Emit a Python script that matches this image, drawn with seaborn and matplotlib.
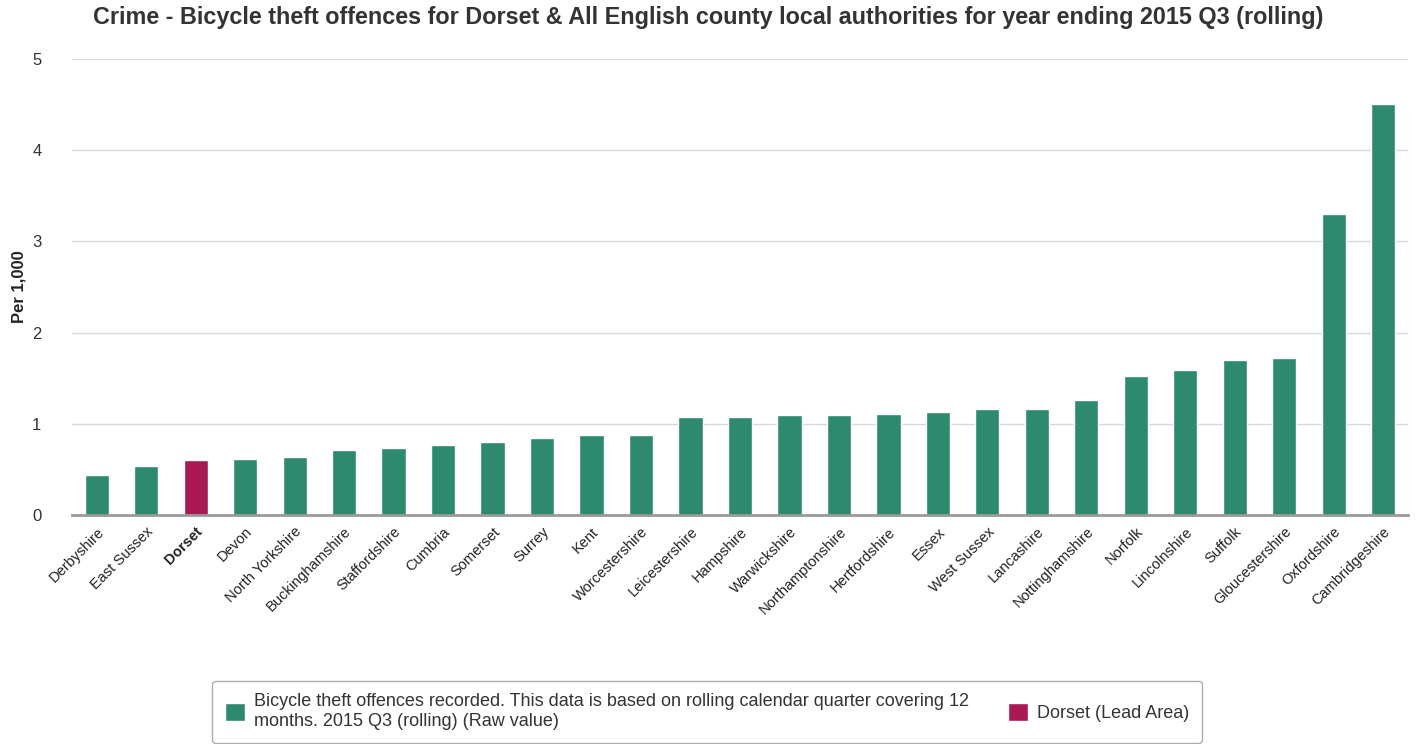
import numpy as np
import pandas as pd
import matplotlib
matplotlib.use("Agg")
import matplotlib.pyplot as plt
from matplotlib.patches import Patch
import seaborn as sns

# data
areas = ["Derbyshire", "East Sussex", "Dorset", "Devon", "North Yorkshire",
         "Buckinghamshire", "Staffordshire", "Cumbria", "Somerset", "Surrey",
         "Kent", "Worcestershire", "Leicestershire", "Hampshire", "Warwickshire",
         "Northamptonshire", "Hertfordshire", "Essex", "West Sussex", "Lancashire",
         "Nottinghamshire", "Norfolk", "Lincolnshire", "Suffolk", "Gloucestershire",
         "Oxfordshire", "Cambridgeshire"]
values = [0.44, 0.54, 0.60, 0.61, 0.64, 0.71, 0.73, 0.77, 0.80, 0.84,
          0.88, 0.88, 1.07, 1.07, 1.10, 1.10, 1.11, 1.13, 1.16, 1.16,
          1.26, 1.52, 1.59, 1.70, 1.72, 3.30, 4.51]
lead_area = "Dorset"
y_ticks = [0, 1, 2, 3, 4, 5]

green = "#2e8a6e"
magenta = "#aa1955"

df = pd.DataFrame({"area": areas, "value": values})
df["kind"] = np.where(df["area"] == lead_area, "lead", "other")

sns.set_style("white")
plt.rcParams['font.family'] = ['Liberation Sans', 'DejaVu Sans']

fig = plt.figure(figsize=(14.17, 7.44), dpi=100)
ax = fig.add_axes([0.0508, 0.3078, 0.9428, 0.6129])

sns.barplot(data=df, x="area", y="value", hue="kind", dodge=False,
            palette={"other": green, "lead": magenta}, width=0.49,
            saturation=1, legend=False, ax=ax)

ax.set_xlim(-0.5, len(areas) - 0.5)
ax.set_ylim(0, 5)
ax.set_yticks(y_ticks)
ax.set_yticklabels([str(t) for t in y_ticks], fontsize=12, color="#333333")
ax.yaxis.grid(True, color="#d8d8d8", linewidth=1)
ax.set_axisbelow(True)
ax.tick_params(axis="y", length=0, pad=22)

# category labels
ax.set_xticks(range(len(areas)))
ax.set_xticklabels(areas, rotation=45, ha="right", rotation_mode="anchor",
                   fontsize=10.5, color="#222222")
for lab in ax.get_xticklabels():
    if lab.get_text() == lead_area:
        lab.set_fontweight("bold")
ax.tick_params(axis="x", which="major", length=0, pad=7)
ax.set_xticks(np.arange(-0.5, len(areas), 1), minor=True)
ax.tick_params(axis="x", which="minor", length=10, color="#c0d0e0", width=1)

for s in ["top", "right", "left"]:
    ax.spines[s].set_visible(False)
ax.spines["bottom"].set_color("#999999")
ax.spines["bottom"].set_linewidth(2)

ax.set_xlabel("")
ax.set_ylabel("Per 1,000", fontsize=12, fontweight="bold", color="#222222")
ax.yaxis.set_label_coords(-0.034, 0.5)

fig.text(0.5, 0.976, "Crime - Bicycle theft offences for Dorset & All English county local authorities for year ending 2015 Q3 (rolling)",
         ha="center", va="center", fontsize=16.8, fontweight="bold", color="#333333")

handles = [Patch(facecolor=green),
           Patch(facecolor=magenta)]
labels = ["Bicycle theft offences recorded. This data is based on rolling calendar quarter covering 12\nmonths. 2015 Q3 (rolling) (Raw value)",
          "Dorset (Lead Area)"]
leg = fig.legend(handles, labels, loc="upper center", bbox_to_anchor=(0.499, 0.097),
                 ncol=2, fontsize=13, frameon=True, fancybox=True,
                 handlelength=1.1, handleheight=1.1, handletextpad=0.5,
                 columnspacing=2.2, borderpad=0.7)
leg.get_frame().set_edgecolor("#999999")
leg.get_frame().set_linewidth(1)
for t in leg.get_texts():
    t.set_color("#333333")

fig.savefig("out.png", dpi=100)
